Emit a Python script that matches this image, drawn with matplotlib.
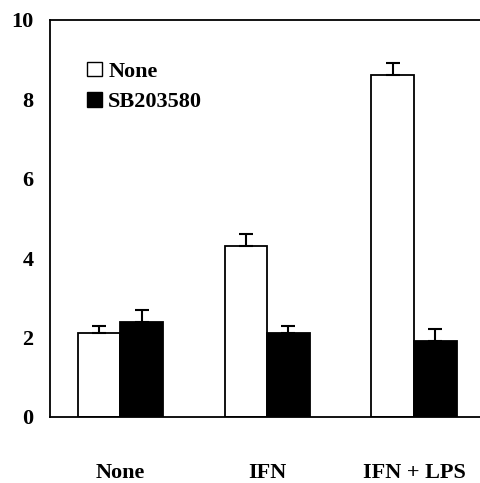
import numpy as np
import matplotlib.pyplot as plt
from matplotlib.patches import Patch

# données
groupes = ["None", "IFN", "IFN + LPS"]
none_vals = [2.1, 4.3, 8.6]
none_err = [0.2, 0.3, 0.3]
sb_vals = [2.4, 2.1, 1.9]
sb_err = [0.3, 0.2, 0.3]

plt.rcParams["font.family"] = ["Liberation Serif", "DejaVu Serif"]
plt.rcParams["font.weight"] = "bold"
fs = 16

fig = plt.figure(figsize=(4.8, 4.83), dpi=100)
ax = fig.add_axes([0.104, 0.137, 0.896, 0.822])

x = np.arange(len(groupes))
w = 0.29

ax.bar(x - w / 2, none_vals, w, color="white", edgecolor="black", linewidth=1.3)
ax.bar(x + w / 2, sb_vals, w, color="black", edgecolor="black", linewidth=1.3)
ax.errorbar(x - w / 2, none_vals, yerr=[np.zeros(3), none_err], fmt="none",
            ecolor="black", elinewidth=1.5, capsize=5, capthick=1.5)
ax.errorbar(x + w / 2, sb_vals, yerr=[np.zeros(3), sb_err], fmt="none",
            ecolor="black", elinewidth=1.5, capsize=5, capthick=1.5)

ax.set_xlim(-0.48, 2.45)
ax.set_ylim(0, 10)
ax.set_yticks([0, 2, 4, 6, 8, 10])
ax.set_xticks(x)
ax.set_xticklabels(groupes, fontsize=fs, fontweight="bold")
ax.tick_params(axis="y", length=0, labelsize=fs, pad=12)
ax.tick_params(axis="x", length=0, pad=33)
for lab in ax.get_yticklabels():
    lab.set_fontweight("bold")

ax.spines["right"].set_visible(False)
for s in ["left", "bottom", "top"]:
    ax.spines[s].set_linewidth(1.3)

handles = [Patch(facecolor="white", edgecolor="black", label="None"),
           Patch(facecolor="black", edgecolor="black", label="SB203580")]
ax.legend(handles=handles, loc="upper left", bbox_to_anchor=(0.04, 0.945),
          frameon=False, handlelength=0.65, handleheight=0.65, handletextpad=0.3,
          labelspacing=0.45, prop={"size": fs, "weight": "bold"})

fig.savefig("out.png", dpi=100)
